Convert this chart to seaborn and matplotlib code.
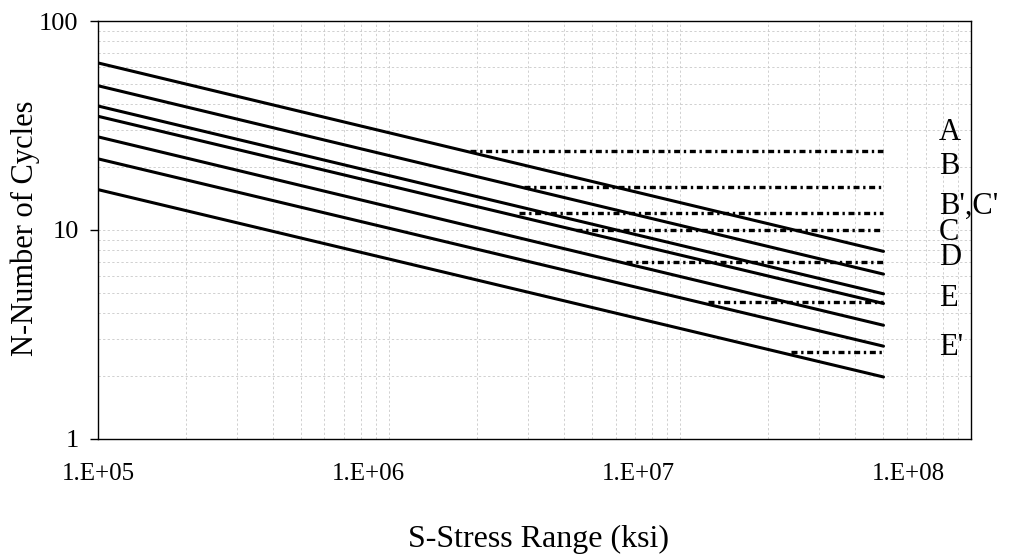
import numpy as np
import pandas as pd
import matplotlib
matplotlib.use("Agg")
import matplotlib.pyplot as plt
import seaborn as sns
from matplotlib.transforms import ScaledTranslation
from matplotlib.ticker import FixedLocator, LogLocator, NullFormatter

# ---------------- data ----------------
categories = ["A", "B", "B'", "C", "D", "E", "E'"]
curve_n = [1e5, 5e7]                                   # cycles at the ends of each S-N line
curve_s_start = [63, 49, 39.2, 35, 27.9, 21.9, 15.6]   # stress at N = 1e5
curve_s_end = [7.9, 6.15, 4.95, 4.45, 3.5, 2.78, 1.98]  # stress at N = 5e7

threshold_cats = ["A", "B", "B',C'", "C", "D", "E", "E'"]
threshold_s = [24, 16, 12, 10, 7, 4.5, 2.6]
threshold_n_start = [1.9e6, 2.9e6, 2.8e6, 4.4e6, 6.5e6, 1.25e7, 2.4e7]
threshold_n_end = [5e7, 5e7, 5e7, 5e7, 5e7, 5e7, 5e7]

label_texts = ["A", "B", "B',C'", "C", "D", "E", "E'"]

x_ticks = [1e5, 1e6, 1e7, 1e8]
x_tick_labels = ["1.E+05", "1.E+06", "1.E+07", "1.E+08"]
y_ticks = [1, 10, 100]
y_tick_labels = ["1", "10", "100"]

# ---------------- tables ----------------
curves = pd.DataFrame({
    "cat": np.repeat(categories, 2),
    "N": np.tile(curve_n, len(categories)),
    "S": np.ravel(np.column_stack([curve_s_start, curve_s_end])),
})
thresholds = pd.DataFrame({
    "cat": np.repeat(threshold_cats, 2),
    "N": np.ravel(np.column_stack([threshold_n_start, threshold_n_end])),
    "S": np.repeat(threshold_s, 2),
})

# ---------------- style ----------------
sns.set_style("white")
plt.rcParams["font.family"] = ["Liberation Serif", "DejaVu Serif"]
plt.rcParams["text.color"] = "black"
plt.rcParams["axes.labelcolor"] = "black"
plt.rcParams["xtick.color"] = "black"
plt.rcParams["ytick.color"] = "black"

fig = plt.figure(figsize=(10.16, 5.6), dpi=100)
ax = fig.add_axes([0.0965, 0.2161, 0.8593, 0.7464])
ax.set_xscale("log")
ax.set_yscale("log")

ax.xaxis.set_minor_locator(LogLocator(base=10, subs=np.arange(2, 10)))
ax.yaxis.set_minor_locator(LogLocator(base=10, subs=np.arange(2, 10)))
ax.xaxis.set_minor_formatter(NullFormatter())
ax.yaxis.set_minor_formatter(NullFormatter())
ax.grid(True, which="both", color="#c4c4c4", linestyle=(0, (3, 3)), linewidth=0.55)
ax.set_axisbelow(True)

sns.lineplot(data=curves, x="N", y="S", units="cat", estimator=None,
             color="black", linewidth=2.2, ax=ax, legend=False)
sns.lineplot(data=thresholds, x="N", y="S", units="cat", estimator=None,
             color="black", linewidth=2.4, ax=ax, legend=False,
             linestyle=(0, (1.8, 1.1, 0.7, 1.1)))

ax.set_xlim(1e5, 1e8)
ax.set_ylim(1, 100)

ax.xaxis.set_major_locator(FixedLocator(x_ticks))
ax.set_xticklabels(x_tick_labels)
ax.yaxis.set_major_locator(FixedLocator(y_ticks))
ax.set_yticklabels(y_tick_labels)
ax.tick_params(axis="x", which="major", length=0, pad=17, labelsize=18, labelcolor="black")
ax.tick_params(axis="y", which="major", length=6, width=1, direction="out",
               left=True, pad=8, labelsize=19, color="black", labelcolor="black")
ax.tick_params(which="minor", length=0)

# the reference's x labels drift left relative to their ticks
for i, lab in enumerate(ax.get_xticklabels()):
    lab.set_transform(lab.get_transform() + ScaledTranslation(-0.21 * i, 0, fig.dpi_scale_trans))

for sp in ax.spines.values():
    sp.set_visible(True)
    sp.set_color("black")
    sp.set_linewidth(1.0)

ax.set_xlabel("S-Stress Range (ksi)", fontsize=23, color="black")
ax.set_ylabel("N-Number of Cycles", fontsize=22, color="black")
ax.xaxis.set_label_coords(0.504, -0.206)
ax.yaxis.set_label_coords(-0.066, 0.505)

label_y = [0.734, 0.651, 0.557, 0.493, 0.433, 0.337, 0.220]
for txt, yy in zip(label_texts, label_y):
    ax.text(0.963, yy, txt, transform=ax.transAxes, ha="left", va="center",
            fontsize=22, color="black", clip_on=False)

fig.savefig("out.png", dpi=100, facecolor="white")
